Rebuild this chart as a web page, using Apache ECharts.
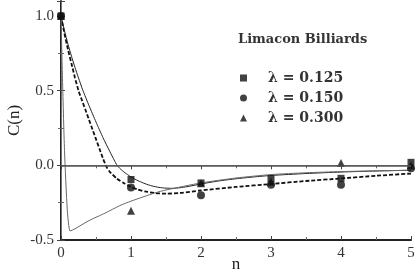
<!DOCTYPE html>
<html><head><meta charset="utf-8">
<script src="https://cdn.jsdelivr.net/npm/echarts@6/dist/echarts.min.js"></script>
<style>html,body{margin:0;padding:0;background:#fff}#c{width:415px;height:273px}</style>
</head><body><div id="c"></div>
<script>
// fitted curves [n, C(n)]
const curve125 = [[0,1.0],[0.05,0.9],[0.1,0.81],[0.15,0.73],[0.2,0.655],[0.25,0.585],[0.31,0.505],[0.4,0.4],[0.5,0.29],[0.6,0.185],[0.7,0.09],[0.76,0.035],[0.8,0.0],[0.85,-0.025],[0.9,-0.045],[1.0,-0.078],[1.1,-0.103],[1.2,-0.123],[1.3,-0.138],[1.4,-0.148],[1.5,-0.153],[1.6,-0.154],[1.7,-0.15],[1.8,-0.143],[2.0,-0.125],[2.25,-0.105],[2.5,-0.09],[2.75,-0.078],[3,-0.068],[3.5,-0.055],[4,-0.045],[4.5,-0.038],[5,-0.033]];
const curve150 = [[0,1.0],[0.05,0.88],[0.1,0.775],[0.15,0.68],[0.2,0.585],[0.25,0.5],[0.3,0.435],[0.35,0.37],[0.4,0.305],[0.45,0.24],[0.5,0.175],[0.55,0.11],[0.6,0.045],[0.65,-0.01],[0.7,-0.045],[0.8,-0.09],[0.9,-0.12],[1.0,-0.145],[1.1,-0.163],[1.2,-0.175],[1.35,-0.186],[1.5,-0.19],[1.7,-0.185],[2.0,-0.168],[2.5,-0.145],[3,-0.125],[3.5,-0.105],[4,-0.088],[4.5,-0.07],[5,-0.055]];
const curve300 = [[0,1.0],[0.02,0.6],[0.05,0.1],[0.09,-0.3],[0.13,-0.44],[0.2,-0.425],[0.4,-0.37],[0.63,-0.32],[0.84,-0.27],[1.0,-0.24],[1.34,-0.185],[1.5,-0.165],[2,-0.118],[2.5,-0.085],[3,-0.062],[3.5,-0.05],[4,-0.042],[4.5,-0.037],[5,-0.033]];
// measured points
const pts125 = [[0,1.0],[1,-0.095],[2,-0.118],[3,-0.09],[4,-0.087],[5,0.02]];
const pts150 = [[0,1.0],[1,-0.149],[2,-0.2],[3,-0.13],[4,-0.13],[5,-0.02]];
const pts300 = [[0,1.0],[1,-0.305],[2,-0.12],[3,-0.11],[4,0.015],[5,0.0]];
const seriesNames = ['λ = 0.125','λ = 0.150','λ = 0.300'];
const titleText = 'Limacon Billiards';

const F = 'Liberation Serif';
const G = 'DejaVu Serif';
const chart = echarts.init(document.getElementById('c'), null, {renderer:'canvas'});
const axisCommon = {
  type:'value', axisLine:{show:true,onZero:false,lineStyle:{color:'#222',width:2}},
  axisTick:{inside:true,length:4,lineStyle:{color:'#444'}},
  minorTick:{show:true,splitNumber:2,length:3,lineStyle:{color:'#666'}},
  splitLine:{show:false}
};
chart.setOption({
  animation:false,
  title:{text:titleText,left:233,top:28,textStyle:{fontFamily:G,fontSize:13,fontWeight:'bold',color:'#333'}},
  legend:{orient:'vertical',left:235,top:66,itemWidth:7,itemHeight:7,itemGap:6,
    data:[{name:seriesNames[0],icon:'rect'},{name:seriesNames[1],icon:'circle'},{name:seriesNames[2],icon:'triangle'}],
    textStyle:{fontFamily:G,fontSize:14,fontWeight:'bold',color:'#333',lineHeight:14,padding:[0,0,0,16]}},
  grid:{left:61,right:4,top:1,bottom:33,outerBoundsMode:'none',containLabel:false},
  xAxis:[
    Object.assign({},axisCommon,{min:0,max:5,interval:1,position:'bottom',
      name:'n',nameLocation:'middle',nameGap:16,nameMoveOverlap:false,nameTextStyle:{fontFamily:F,fontSize:17,color:'#222',verticalAlign:'top'},
      axisLabel:{fontFamily:F,fontSize:15,color:'#333',margin:6}}),
    Object.assign({},axisCommon,{min:0,max:5,interval:1,position:'top',axisLabel:{show:false},
      axisLine:{show:true,lineStyle:{color:'#777',width:1}}})
  ],
  yAxis:[
    Object.assign({},axisCommon,{min:-0.5,max:1.1,interval:0.5,position:'left',
      name:'C(n)',nameLocation:'middle',nameGap:38,nameMoveOverlap:false,nameRotate:90,nameTextStyle:{fontFamily:F,fontSize:17,color:'#222'},
      axisLabel:{fontFamily:F,fontSize:15,color:'#333',margin:7,
        formatter:v=>Math.abs(v-1.1)<1e-6?'':v.toFixed(1)}}),
    Object.assign({},axisCommon,{min:-0.5,max:1.1,interval:0.5,position:'right',axisLabel:{show:false},
      axisLine:{show:true,lineStyle:{color:'#777',width:1}}})
  ],
  series:[
    {type:'line',data:curve125,smooth:0.2,symbol:'none',lineStyle:{color:'#222',width:1},z:2,
     markLine:{silent:true,symbol:'none',label:{show:false},lineStyle:{color:'#555',width:1.5,type:'solid'},data:[{yAxis:0}]}},
    {type:'line',data:curve150,smooth:0.2,symbol:'none',lineStyle:{color:'#111',width:1.8,type:[4,2]},z:2},
    {type:'line',data:curve300,smooth:0.2,symbol:'none',lineStyle:{color:'#666',width:1},z:2},
    {name:seriesNames[0],type:'scatter',data:pts125,symbol:'rect',symbolSize:7,itemStyle:{color:'#111'},z:3},
    {name:seriesNames[1],type:'scatter',data:pts150,symbol:'circle',symbolSize:8,itemStyle:{color:'#111'},z:3},
    {name:seriesNames[2],type:'scatter',data:pts300,symbol:'triangle',symbolSize:8,itemStyle:{color:'#111'},z:3}
  ]
});
</script></body></html>
